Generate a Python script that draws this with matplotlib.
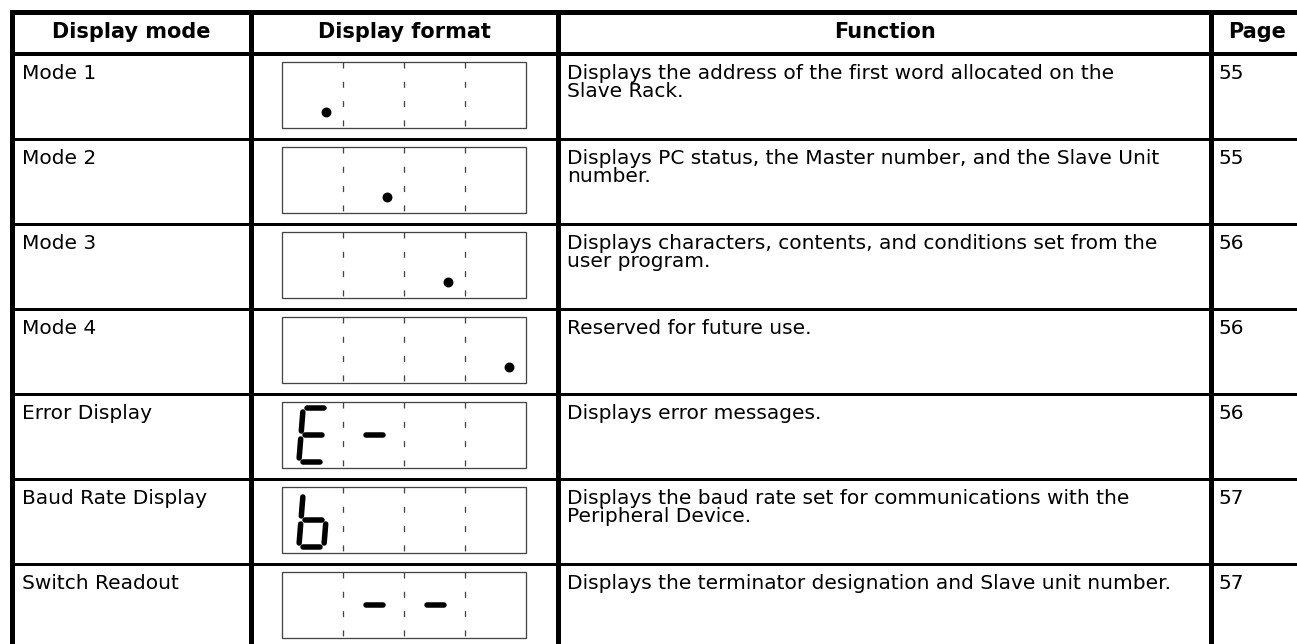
import matplotlib
matplotlib.use("Agg")
import matplotlib.pyplot as plt

plt.rcParams["font.family"] = ["DejaVu Sans"]
plt.rcParams["lines.scale_dashes"] = False

# =========================
# Table content
# =========================
headers = ["Display mode", "Display format", "Function", "Page"]

modes = ["Mode 1", "Mode 2", "Mode 3", "Mode 4",
         "Error Display", "Baud Rate Display", "Switch Readout"]

# one character per display cell ("." = decimal point only)
displays = [".   ", " .  ", "  . ", "   .", "E-  ", "b   ", " -- "]

functions = [
    "Displays the address of the first word allocated on the\nSlave Rack.",
    "Displays PC status, the Master number, and the Slave Unit\nnumber.",
    "Displays characters, contents, and conditions set from the\nuser program.",
    "Reserved for future use.",
    "Displays error messages.",
    "Displays the baud rate set for communications with the\nPeripheral Device.",
    "Displays the terminator designation and Slave unit number.",
]

pages = ["55", "55", "56", "56", "56", "57", "57"]

SEGMENTS = {"E": "adefg", "b": "cdefg", "-": "g", ".": "p", " ": ""}

# =========================
# Layout (pixels)
# =========================
W, H = 1297, 644
col_x = [12, 251, 558, 1211, 1303]
top, head_bot, row_h = 12, 54, 85
bottom = head_bot + row_h * len(modes)
box_x0, box_x1 = 282, 526
cell_w = (box_x1 - box_x0) / 4
FS = 14.5
FS_HEAD = 15


def px(v):
    return v * 72 / 100


fig = plt.figure(figsize=(W / 100, H / 100), dpi=100)
ax = fig.add_axes([0, 0, 1, 1])
ax.set_xlim(0, W)
ax.set_ylim(H, 0)
ax.axis("off")

# grid lines
ax.plot([col_x[0], col_x[-1]], [top, top], color="black", lw=px(5), solid_capstyle="projecting")
for x in col_x:
    ax.plot([x, x], [top, bottom], color="black", lw=px(5), solid_capstyle="projecting")
ax.plot([col_x[0], col_x[-1]], [head_bot, head_bot], color="black", lw=px(4))
for i in range(1, len(modes) + 1):
    y = head_bot + i * row_h
    ax.plot([col_x[0], col_x[-1]], [y, y], color="black", lw=px(3))

# header
for i, h in enumerate(headers):
    ax.text((col_x[i] + col_x[i + 1]) / 2, 38, h, ha="center", va="baseline",
            fontsize=FS_HEAD, fontweight="bold")


def draw_cell(cx, T, ch):
    L, R = cx + 19, cx + 44
    Tp, M, B = T + 14, T + 41, T + 68
    g = 4
    slant = 0.08

    def seg(x0, y0, x1, y1):
        ax.plot([x0 + (M - y0) * slant, x1 + (M - y1) * slant], [y0, y1],
                color="black", lw=px(5.5), solid_capstyle="round")

    for s in SEGMENTS[ch]:
        if s == "a":
            seg(L + g, Tp, R - g, Tp)
        elif s == "b":
            seg(R, Tp + g, R, M - g)
        elif s == "c":
            seg(R, M + g, R, B - g)
        elif s == "d":
            seg(L + g, B, R - g, B)
        elif s == "e":
            seg(L, M + g, L, B - g)
        elif s == "f":
            seg(L, Tp + g, L, M - g)
        elif s == "g":
            seg(L + g, M, R - g, M)
        elif s == "p":
            ax.plot(R, T + 58, "o", ms=px(8.5), color="black")


for r in range(len(modes)):
    T = head_bot + r * row_h

    ax.text(col_x[0] + 10, T + 25, modes[r], ha="left", va="baseline", fontsize=FS)

    for k, line in enumerate(functions[r].split("\n")):
        ax.text(col_x[2] + 9, T + 25 + k * 18, line, ha="left", va="baseline", fontsize=FS)

    ax.text(col_x[3] + 7, T + 25, pages[r], ha="left", va="baseline", fontsize=FS)

    # display box
    ax.add_patch(plt.Rectangle((box_x0, T + 8), box_x1 - box_x0, 66, fill=False,
                               ec="#444444", lw=px(1.3)))
    for k in range(1, 4):
        x = box_x0 + k * cell_w
        ax.plot([x, x], [T + 8, T + 74], color="#444444", lw=px(1.3),
                linestyle=(0, (px(6), px(13.3))))
    for k, ch in enumerate(displays[r]):
        draw_cell(box_x0 + k * cell_w, T, ch)

fig.savefig("out.png", dpi=100)
plt.close(fig)
